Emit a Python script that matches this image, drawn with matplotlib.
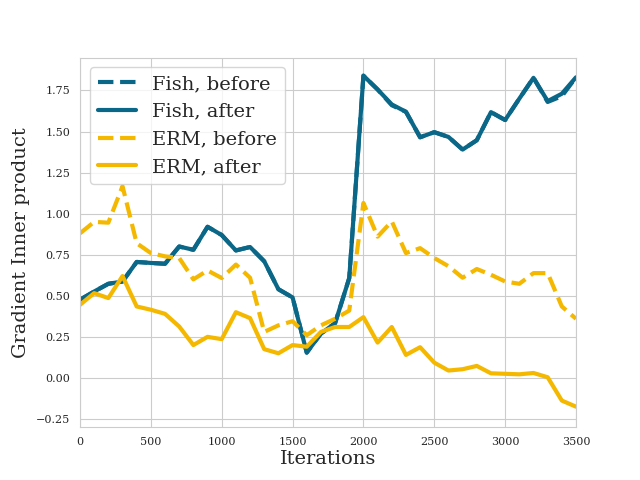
import matplotlib
matplotlib.use("Agg")
import matplotlib.pyplot as plt
import seaborn as sns

iterations = list(range(0, 3600, 100))

fish_after = [0.476, 0.526, 0.573, 0.587, 0.706, 0.70, 0.695, 0.80, 0.78, 0.92,
              0.87, 0.776, 0.797, 0.71, 0.54, 0.49, 0.154, 0.27, 0.333, 0.608,
              1.84, 1.756, 1.665, 1.62, 1.465, 1.496, 1.467, 1.39, 1.447, 1.618,
              1.57, 1.70, 1.827, 1.685, 1.73, 1.83]
fish_before = [0.476, 0.526, 0.573, 0.587, 0.706, 0.70, 0.695, 0.80, 0.78, 0.92,
               0.87, 0.776, 0.797, 0.71, 0.54, 0.49, 0.154, 0.27, 0.333, 0.608,
               1.84, 1.756, 1.66, 1.62, 1.465, 1.496, 1.467, 1.39, 1.447, 1.618,
               1.57, 1.70, 1.827, 1.68, 1.715, 1.83]
erm_before = [0.88, 0.95, 0.945, 1.167, 0.82, 0.76, 0.74, 0.73, 0.60, 0.654,
              0.608, 0.69, 0.61, 0.28, 0.32, 0.345, 0.26, 0.32, 0.36, 0.41,
              1.065, 0.86, 0.953, 0.76, 0.79, 0.73, 0.68, 0.61, 0.663, 0.628,
              0.587, 0.573, 0.638, 0.638, 0.435, 0.36]
erm_after = [0.445, 0.516, 0.486, 0.62, 0.435, 0.415, 0.39, 0.313, 0.20, 0.25,
             0.236, 0.40, 0.364, 0.175, 0.15, 0.20, 0.19, 0.28, 0.31, 0.31,
             0.37, 0.215, 0.31, 0.14, 0.187, 0.093, 0.045, 0.053, 0.073, 0.028,
             0.025, 0.022, 0.03, 0.004, -0.138, -0.175]

FISH = "#0b6788"
ERM = "#f5b800"

sns.set_style("whitegrid")
plt.rcParams["font.family"] = ["DejaVu Serif"]

fig, ax = plt.subplots(figsize=(6.4, 4.8), dpi=100)
ax.plot(iterations, fish_before, color=FISH, lw=3, ls="--", label="Fish, before")
ax.plot(iterations, fish_after, color=FISH, lw=3, label="Fish, after")
ax.plot(iterations, erm_before, color=ERM, lw=3, ls="--", label="ERM, before")
ax.plot(iterations, erm_after, color=ERM, lw=3, label="ERM, after")

ax.set_xlim(0, 3500)
ax.set_ylim(-0.30, 1.95)
ax.set_xlabel("Iterations", fontsize=14, labelpad=2)
ax.set_ylabel("Gradient Inner product", fontsize=14)
ax.tick_params(labelsize=8)
ax.legend(fontsize=14, loc="upper left", framealpha=0.8)

fig.savefig("out.png", dpi=100)
